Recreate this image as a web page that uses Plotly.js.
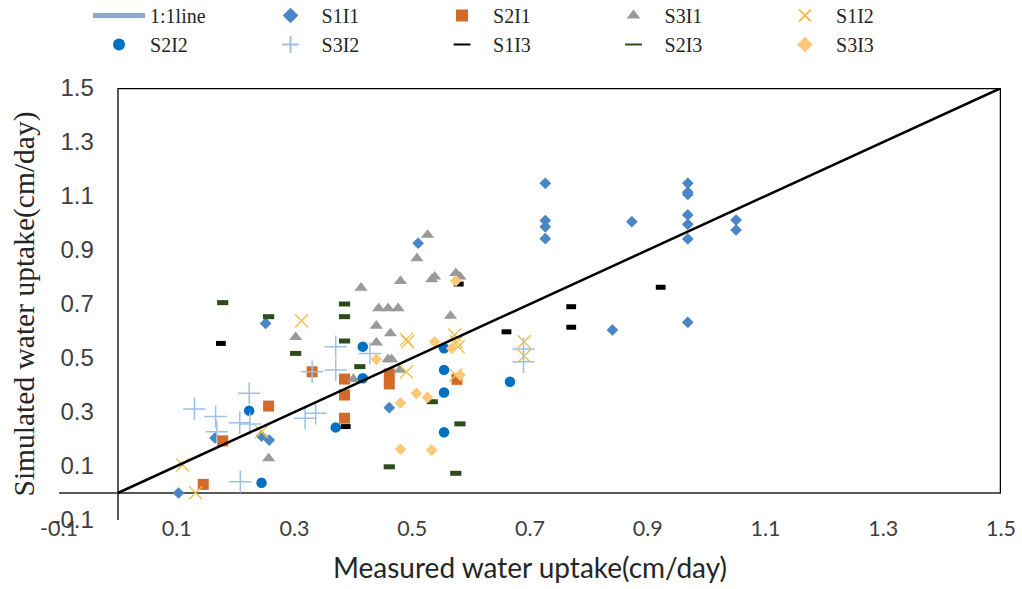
<!DOCTYPE html>
<html>
<head>
<meta charset="utf-8">
<script src="https://cdn.plot.ly/plotly-3.0.1.min.js"></script>
<style>html,body{margin:0;padding:0;background:#fff;}#chart{width:1022px;height:589px;}</style>
</head>
<body>
<div id="chart"></div>
<script>
// ---- data (measured x, simulated y) ----
const lineX = [0, 1.5];
const lineY = [0, 1.5];

const s1i1X = [0.103,0.165,0.244,0.257,0.251,0.510,0.461,0.726,0.726,0.726,0.726,0.873,0.840,0.968,0.968,0.968,0.968,0.968,0.968,0.968,1.050,1.050];
const s1i1Y = [0.000,0.204,0.211,0.196,0.628,0.925,0.316,1.147,1.009,0.986,0.942,1.005,0.604,1.147,1.114,1.106,1.030,0.995,0.941,0.632,1.011,0.974];

const s2i1X = [0.145,0.178,0.256,0.330,0.385,0.385,0.385,0.461,0.461,0.576];
const s2i1Y = [0.032,0.193,0.322,0.449,0.422,0.363,0.277,0.441,0.404,0.421];

const s3i1X = [0.256,0.302,0.400,0.526,0.508,0.413,0.480,0.533,0.538,0.574,0.581,0.443,0.459,0.476,0.565,0.439,0.463,0.439,0.459,0.465,0.479];
const s3i1Y = [0.128,0.577,0.422,0.956,0.869,0.760,0.785,0.791,0.801,0.814,0.801,0.684,0.684,0.684,0.656,0.619,0.591,0.557,0.495,0.495,0.456];

const s1i2X = [0.110,0.132,0.244,0.312,0.490,0.492,0.490,0.572,0.575,0.578,0.574,0.690,0.690];
const s1i2Y = [0.104,0.001,0.227,0.638,0.569,0.560,0.449,0.585,0.560,0.542,0.437,0.560,0.507];

const s2i2X = [0.244,0.223,0.370,0.416,0.416,0.554,0.554,0.554,0.554,0.666];
const s2i2Y = [0.038,0.305,0.243,0.542,0.425,0.536,0.456,0.372,0.225,0.412];

const s3i2X = [0.130,0.166,0.168,0.207,0.224,0.223,0.208,0.330,0.370,0.370,0.318,0.336,0.428,0.689,0.689];
const s3i2Y = [0.311,0.283,0.227,0.260,0.256,0.369,0.042,0.449,0.542,0.456,0.277,0.295,0.517,0.533,0.486];

const s1i3X = [0.175,0.387,0.579,0.660,0.770,0.770,0.922];
const s1i3Y = [0.554,0.246,0.774,0.597,0.690,0.614,0.762];

const s2i3X = [0.178,0.256,0.385,0.385,0.385,0.302,0.411,0.461,0.534,0.581,0.574];
const s2i3Y = [0.705,0.653,0.700,0.653,0.563,0.517,0.468,0.097,0.338,0.256,0.073];

const s3i3X = [0.574,0.538,0.439,0.567,0.581,0.507,0.526,0.480,0.480,0.533];
const s3i3Y = [0.786,0.560,0.495,0.536,0.437,0.369,0.354,0.334,0.162,0.159];

const axisRange = [-0.1, 1.5];
const tickVals = [-0.1, 0.1, 0.3, 0.5, 0.7, 0.9, 1.1, 1.3, 1.5];
const tickText = ['-0.1','0.1','0.3','0.5','0.7','0.9','1.1','1.3','1.5'];

function pts(name, x, y, symbol, color, size, lw) {
  return {
    type: 'scatter', mode: 'markers', name: name, x: x, y: y,
    marker: {symbol: symbol, color: color, size: size,
             line: {width: lw || 0, color: color}}
  };
}

const traces = [
  {type:'scatter', mode:'lines', name:'1:1line', x:[null], y:[null],
   line:{color:'#8EA5D8', width:4}},
  pts('S1I1', s1i1X, s1i1Y, 'diamond', '#4A86C5', 9),
  pts('S2I1', s2i1X, s2i1Y, 'square', '#D26A2A', 11),
  pts('S3I1', s3i1X, s3i1Y, 'triangle-up', '#9A9A9A', 11.5),
  pts('S1I2', s1i2X, s1i2Y, 'x-thin-open', '#EFC050', 13, 1.4),
  pts('S2I2', s2i2X, s2i2Y, 'circle', '#0070C0', 10.5),
  pts('S3I2', s3i2X, s3i2Y, 'cross-thin-open', '#9BC2E6', 16, 1.5),
  pts('S1I3', s1i3X, s1i3Y, 'line-ew-open', '#000000', 7, 5),
  pts('S2I3', s2i3X, s2i3Y, 'line-ew-open', '#2E4B1E', 8, 5),
  pts('S3I3', s3i3X, s3i3Y, 'diamond', '#FFC878', 9),
  {type:'scatter', mode:'lines', name:'1:1', showlegend:false, x:lineX, y:lineY,
   line:{color:'#000000', width:2.5}, hoverinfo:'skip'}
];

const layout = {
  width: 1022, height: 589,
  margin: {l: 59, r: 21, t: 88, b: 69, pad: 0, autoexpand: false},
  paper_bgcolor: '#ffffff', plot_bgcolor: '#ffffff',
  showlegend: true,
  legend: {
    orientation: 'h', x: 0.0308, xanchor: 'left', y: 1.213, yanchor: 'top',
    itemwidth: 52, entrywidth: 104.5, entrywidthmode: 'pixels',
    itemsizing: 'constant', traceorder: 'normal',
    font: {family: 'Liberation Serif, serif', size: 20, color: '#262626'},
    bgcolor: 'rgba(0,0,0,0)', borderwidth: 0
  },
  xaxis: {
    range: axisRange, tickvals: tickVals, ticktext: tickText, automargin: false,
    showgrid: false, showline: false, ticks: '',
    zeroline: true, zerolinecolor: '#595959', zerolinewidth: 1.5,
    ticklabelstandoff: -7,
    tickfont: {family: 'Lato, sans-serif', size: 21.5, color: '#404040'},
    title: {text: 'Measured water uptake(cm/day)',
            font: {family: 'Lato, sans-serif', size: 28, color: '#262626'}, standoff: 18}
  },
  yaxis: {
    range: axisRange, tickvals: tickVals, ticktext: tickText, automargin: false,
    anchor: 'free', position: 0.037,
    showgrid: false, showline: false, ticks: '',
    zeroline: true, zerolinecolor: '#595959', zerolinewidth: 1.5,
    tickfont: {family: 'Liberation Sans, Arial, sans-serif', size: 24, color: '#404040'},
    title: {text: 'Simulated water uptake(cm/day)',
            font: {family: 'Liberation Serif, serif', size: 29.5, color: '#262626'}, standoff: 8}
  },
  shapes: [
    {type:'line', xref:'x', yref:'y', x0: lineX[0], x1: lineX[1], y0: lineY[1], y1: lineY[1],
     line:{color:'#000000', width:2.5}},
    {type:'line', xref:'x', yref:'y', x0: lineX[1], x1: lineX[1], y0: lineY[0], y1: lineY[1],
     line:{color:'#000000', width:2.5}}
  ]
};

Plotly.newPlot('chart', traces, layout, {displayModeBar: false, staticPlot: true});
</script>
</body>
</html>
